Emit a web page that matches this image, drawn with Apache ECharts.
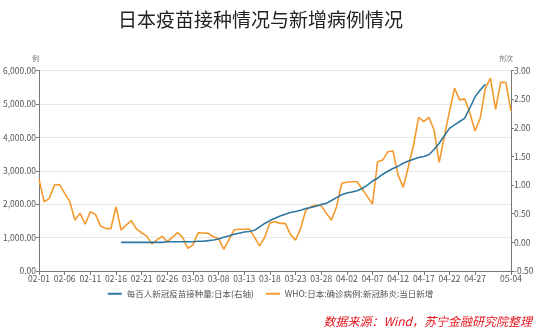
<!DOCTYPE html>
<html>
<head>
<meta charset="utf-8">
<script src="https://cdn.jsdelivr.net/npm/echarts@6/dist/echarts.min.js"></script>
<style>
  html, body { margin: 0; padding: 0; background: #fff; }
  #chart { width: 541px; height: 330px; }
</style>
</head>
<body>
<div id="chart"></div>
<script>
// Daily dates, 2021-02-01 .. 2021-05-04
const dates = [
  '02-01','02-02','02-03','02-04','02-05','02-06','02-07','02-08','02-09','02-10',
  '02-11','02-12','02-13','02-14','02-15','02-16','02-17','02-18','02-19','02-20',
  '02-21','02-22','02-23','02-24','02-25','02-26','02-27','02-28','03-01','03-02',
  '03-03','03-04','03-05','03-06','03-07','03-08','03-09','03-10','03-11','03-12',
  '03-13','03-14','03-15','03-16','03-17','03-18','03-19','03-20','03-21','03-22',
  '03-23','03-24','03-25','03-26','03-27','03-28','03-29','03-30','03-31','04-01',
  '04-02','04-03','04-04','04-05','04-06','04-07','04-08','04-09','04-10','04-11',
  '04-12','04-13','04-14','04-15','04-16','04-17','04-18','04-19','04-20','04-21',
  '04-22','04-23','04-24','04-25','04-26','04-27','04-28','04-29','04-30','05-01',
  '05-02','05-03','05-04'
];

// WHO: Japan, confirmed COVID-19 cases, new per day (left axis)
const newCases = [
  2740, 2070, 2175, 2570, 2590, 2325, 2075, 1525, 1725, 1400,
  1775, 1695, 1345, 1275, 1265, 1925, 1225, 1375, 1505, 1255,
  1145, 1045, 810, 930, 1035, 880, 1005, 1150, 1005, 680,
  780, 1145, 1135, 1125, 1025, 975, 650, 930, 1225, 1250,
  1250, 1255, 1005, 750, 1010, 1445, 1475, 1425, 1425, 1095,
  925, 1275, 1825, 1925, 1975, 1955, 1725, 1525, 1925, 2625,
  2655, 2670, 2670, 2455, 2225, 2005, 3270, 3320, 3570, 3590,
  2870, 2505, 3120, 3770, 4600, 4470, 4600, 4220, 3250, 4020,
  4770, 5470, 5120, 5150, 4720, 4190, 4570, 5470, 5770, 4840,
  5650, 5640, 4790
];

// COVID-19 vaccine doses per 100 people, Japan (right axis); starts 02-17, ends 04-29
const dosesPer100 = [
  null, null, null, null, null, null, null, null, null, null,
  null, null, null, null, null, null, 0.00, 0.00, 0.00, 0.00,
  0.00, 0.00, 0.00, 0.00, 0.00, 0.01, 0.01, 0.01, 0.01, 0.01,
  0.01, 0.02, 0.02, 0.03, 0.04, 0.06, 0.09, 0.11, 0.14, 0.16,
  0.18, 0.19, 0.21, 0.27, 0.33, 0.38, 0.42, 0.46, 0.49, 0.52,
  0.54, 0.56, 0.59, 0.61, 0.63, 0.66, 0.68, 0.73, 0.78, 0.83,
  0.86, 0.88, 0.90, 0.94, 1.00, 1.07, 1.12, 1.19, 1.24, 1.29,
  1.33, 1.38, 1.42, 1.45, 1.48, 1.50, 1.53, 1.62, 1.73, 1.86,
  1.99, 2.05, 2.11, 2.17, 2.35, 2.54, 2.66, 2.76, null, null,
  null, null, null
];

const seriesNames = ['每百人新冠疫苗接种量:日本(右轴)', 'WHO:日本:确诊病例:新冠肺炎:当日新增'];
const titleText = '日本疫苗接种情况与新增病例情况';
const sourceText = '数据来源：Wind，苏宁金融研究院整理';

const FONT = '"Microsoft YaHei", "Noto Sans CJK SC", sans-serif';
const lastIdx = dates.length - 1;
const showLabel = (i) => (i % 5 === 0 && i <= lastIdx - 5) || i === lastIdx;

const chart = echarts.init(document.getElementById('chart'), null, { renderer: 'canvas' });
chart.setOption({
  animation: false,
  backgroundColor: '#fff',
  title: {
    text: titleText,
    left: 113,
    top: 5,
    textStyle: { fontFamily: FONT, fontSize: 19, fontWeight: 'normal', color: '#222' }
  },
  grid: { left: 39, right: 30, top: 70.5, bottom: 59, containLabel: false },
  legend: {
    bottom: 27,
    left: 'center',
    itemWidth: 14,
    itemHeight: 2,
    itemGap: 12,
    icon: 'rect',
    textStyle: { fontFamily: FONT, fontSize: 8.5, color: '#555' },
    data: seriesNames
  },
  xAxis: {
    type: 'category',
    data: dates,
    boundaryGap: false,
    axisLine: { lineStyle: { color: '#777' } },
    axisTick: { interval: (i) => showLabel(i), length: 4, lineStyle: { color: '#777' } },
    axisLabel: {
      interval: (i) => showLabel(i),
      fontFamily: FONT, fontSize: 8.5, color: '#555', margin: 4
    },
    splitLine: { show: false }
  },
  yAxis: [
    {
      type: 'value',
      name: '例',
      nameGap: 9,
      nameTextStyle: { fontFamily: FONT, fontSize: 7, color: '#777', align: 'right' },
      min: 0, max: 6000, interval: 1000,
      axisLine: { show: true, lineStyle: { color: '#777' } },
      axisTick: { show: true, length: 3, lineStyle: { color: '#777' } },
      axisLabel: {
        fontFamily: FONT, fontSize: 8.5, color: '#555', margin: 3,
        formatter: (v) => v.toLocaleString('en-US', { minimumFractionDigits: 2, maximumFractionDigits: 2 })
      },
      splitLine: { show: true, lineStyle: { color: '#e9e9e9' } }
    },
    {
      type: 'value',
      name: '剂次',
      nameGap: 9,
      nameTextStyle: { fontFamily: FONT, fontSize: 7, color: '#777', padding: [0, 10, 0, 0] },
      min: -0.5, max: 3.0, interval: 0.5,
      position: 'right',
      axisLine: { show: true, lineStyle: { color: '#777' } },
      axisTick: { show: true, length: 3, lineStyle: { color: '#777' } },
      axisLabel: {
        fontFamily: FONT, fontSize: 8.5, color: '#555', margin: 3,
        formatter: (v) => v.toFixed(2)
      },
      splitLine: { show: false }
    }
  ],
  series: [
    {
      name: seriesNames[0],
      type: 'line',
      yAxisIndex: 1,
      data: dosesPer100,
      symbol: 'none',
      connectNulls: false,
      lineStyle: { color: '#2f77a3', width: 1.6 },
      itemStyle: { color: '#2f77a3' },
      z: 3
    },
    {
      name: seriesNames[1],
      type: 'line',
      yAxisIndex: 0,
      data: newCases,
      symbol: 'none',
      lineStyle: { color: '#f4992e', width: 1.6 },
      itemStyle: { color: '#f4992e' },
      z: 2
    }
  ],
  graphic: [
    {
      type: 'text',
      right: 9,
      bottom: 3,
      style: {
        text: sourceText,
        fontFamily: FONT,
        fontSize: 12,
        fontStyle: 'italic',
        fill: '#e3141c'
      }
    }
  ]
});
</script>
</body>
</html>
